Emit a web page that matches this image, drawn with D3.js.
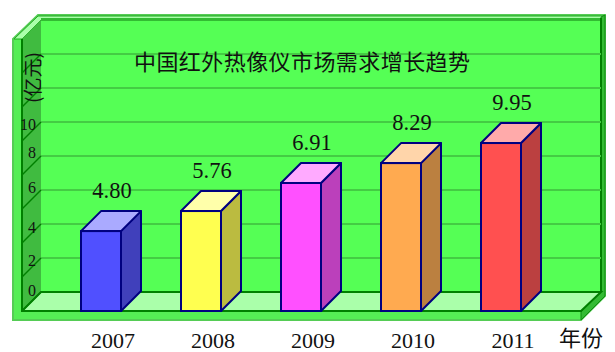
<!DOCTYPE html>
<html>
<head>
<meta charset="utf-8">
<script src="https://cdn.jsdelivr.net/npm/d3@7/dist/d3.min.js"></script>
<style>
  html, body { margin: 0; padding: 0; background: #fff; }
  svg { display: block; }
  text { font-family: "Liberation Serif", serif; fill: #111; }
  .cjk { font-family: "Noto Sans CJK SC", sans-serif; font-weight: 400; }
</style>
</head>
<body>
<script>
// data
const years = ["2007", "2008", "2009", "2010", "2011"];
// bar heights as drawn in the picture (they don't quite follow the printed labels)
const barHeights = [4.7, 5.88, 7.53, 8.7, 9.88];
const valueLabels = ["4.80", "5.76", "6.91", "8.29", "9.95"];
const yTicks = [0, 2, 4, 6, 8, 10];
const gridValues = [0, 2, 4, 6, 8, 10, 12, 14];
const frontColors = ["#5050ff", "#ffff50", "#ff50ff", "#ffaa50", "#ff5050"];
const topColors = ["#aaaaff", "#ffffaa", "#ffaaff", "#ffd5aa", "#ffaaaa"];
const sideColors = ["#4040bb", "#bbbb40", "#bb40bb", "#bb8040", "#bb4040"];

const w = 615, h = 352;
const depth = 20;      // 3d offset of the back wall
const floorY = 311;
const wallL = 41, wallR = 601; // back wall

const x = d3.scaleBand().domain(years).range([51, 551]).paddingInner(0.6).paddingOuter(0.3);
const y = d3.scaleLinear().domain([0, 16]).range([floorY, floorY - 272]);

const svg = d3.select("body").append("svg").attr("width", w).attr("height", h);
const poly = (pts, fill, stroke, sw) => svg.append("polygon")
  .attr("points", pts.map(p => p.join(",")).join(" "))
  .attr("fill", fill).attr("stroke", stroke || "none").attr("stroke-width", sw || 0);

// frame
poly([[13, 39], [38, 15], [605, 15], [605, 296], [581, 320], [13, 320]], "#55ee55", "#55cc55", 2);
// top bevel
poly([[14, 39], [38, 16], [604, 16], [601, 20], [41, 20], [22, 39]], "#aaffaa", "#22aa22", 1);
// back wall
poly([[wallL, 20], [wallR, 20], [wallR, floorY - depth + 1], [wallL, floorY - depth + 1]], "#55ff55");
svg.append("rect").attr("x", wallL).attr("y", 18).attr("width", wallR - wallL).attr("height", 3).attr("fill", "#33bb33");
// left wall
poly([[22, 39], [wallL, 20], [wallL, floorY - depth + 1], [22, floorY]], "#40bb40");
// floor
poly([[22, floorY], [wallL, floorY - depth + 1], [wallR, floorY - depth + 1], [wallR - depth + 1, floorY]], "#aaffaa");
// right edge, dark green
poly([[601, 17], [605, 15], [605, 296], [581, 320], [581, 312], [601, 292]], "#33bb33", "#118811", 1);
svg.append("line").attr("x1", 601).attr("x2", 601).attr("y1", 18).attr("y2", 292).attr("stroke", "#008000").attr("stroke-width", 2);

// grid on back wall + diagonals on side wall
svg.append("g").selectAll("line").data(gridValues.filter(v => v > 0)).enter().append("line")
  .attr("x1", wallL).attr("x2", wallR)
  .attr("y1", d => y(d) - depth + 1).attr("y2", d => y(d) - depth + 1)
  .attr("stroke", "#44cc44").attr("stroke-width", 2);
svg.append("g").selectAll("line").data(gridValues).enter().append("line")
  .attr("x1", 22).attr("x2", wallL)
  .attr("y1", d => y(d)).attr("y2", d => y(d) - depth + 1)
  .attr("stroke", "#008000").attr("stroke-width", 1.5);

// floor and wall edges
svg.append("path").attr("d", `M22 39V${floorY}H581 L601 ${floorY - depth + 1}H${wallL}L22 ${floorY}`)
  .attr("fill", "none").attr("stroke", "#008000").attr("stroke-width", 2);

// y axis: only labels, drawn on the side wall. the source has them a bit uneven
const tickNudge = { 0: -2, 2: 2, 4: 3, 6: -3, 8: -4, 10: 2 };
const yAxis = d3.axisLeft(y).tickValues(yTicks).tickSize(0).tickPadding(0);
const yg = svg.append("g").attr("transform", "translate(36,-19)").call(yAxis);
yg.select(".domain").remove();
yg.selectAll("text").attr("font-size", 16).attr("font-family", "Liberation Serif").attr("fill", "#111")
  .attr("y", d => tickNudge[d]);

// bars
const bars = svg.append("g").selectAll("g").data(years).enter().append("g");
const navy = "#000080";
bars.append("polygon").attr("fill", (d, i) => sideColors[i]).attr("stroke", navy).attr("stroke-width", 2)
  .attr("stroke-linejoin", "round")
  .attr("points", (d, i) => {
    const r = x(d) + x.bandwidth();
    return [[r, y(barHeights[i])], [r + depth, y(barHeights[i]) - depth], [r + depth, floorY - depth], [r, floorY]].join(" ");
  });
bars.append("polygon").attr("fill", (d, i) => topColors[i]).attr("stroke", navy).attr("stroke-width", 2)
  .attr("stroke-linejoin", "round")
  .attr("points", (d, i) => {
    const l = x(d), r = l + x.bandwidth(), t = y(barHeights[i]);
    return [[l, t], [l + depth, t - depth], [r + depth, t - depth], [r, t]].join(" ");
  });
bars.append("rect").attr("fill", (d, i) => frontColors[i]).attr("stroke", navy).attr("stroke-width", 2)
  .attr("x", d => x(d)).attr("width", x.bandwidth())
  .attr("y", (d, i) => y(barHeights[i])).attr("height", (d, i) => floorY - y(barHeights[i]));

// value labels
bars.append("text").attr("text-anchor", "middle").attr("font-size", 22.5)
  .attr("x", d => x(d) + x.bandwidth() / 2 + 11)
  .attr("y", (d, i) => y(barHeights[i]) - 33)
  .text((d, i) => valueLabels[i]);

// x axis labels
const xAxis = d3.axisBottom(x).tickSize(0).tickPadding(0);
const xg = svg.append("g").attr("transform", "translate(12,332)").call(xAxis);
xg.select(".domain").remove();
xg.selectAll("text").attr("font-size", 22).attr("font-family", "Liberation Serif").attr("fill", "#111");

// titles
svg.append("text").attr("class", "cjk").attr("x", 134).attr("y", 70).attr("font-size", 22)
  .attr("textLength", 336).text("中国红外热像仪市场需求增长趋势");
svg.append("text").attr("class", "cjk").attr("x", 559).attr("y", 346).attr("font-size", 22).text("年份");
svg.append("text").attr("class", "cjk").attr("font-size", 19)
  .attr("transform", "translate(40,103) rotate(-90)").text("(亿元)");
</script>
</body>
</html>
